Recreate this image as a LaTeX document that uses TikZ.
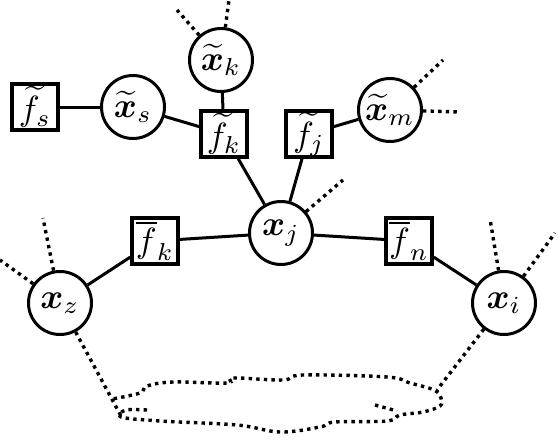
\documentclass[tikz,border=0pt]{standalone}
\usepackage{amsmath,bm,graphicx}
\newcommand{\glab}[1]{\scalebox{3.5}{$#1$}}
\begin{document}
\begin{tikzpicture}[x=1pt,y=-1pt,
  var/.style={circle,draw,line width=3pt,minimum size=63pt,inner sep=0pt},
  fac/.style={rectangle,draw,line width=3.6pt,minimum width=46pt,minimum height=46pt,inner sep=0pt},
  edge/.style={line width=3pt},
  dots/.style={line width=3.4pt,dash pattern=on 3.4pt off 4.2pt}]
\useasboundingbox (0,0) rectangle (558,442);
\node[var] (xk) at (221,60) {\glab{\widetilde{\bm{x}}_k}};
\node[var] (xs) at (133,107) {\glab{\widetilde{\bm{x}}_s}};
\node[fac] (fs) at (35,107) {\glab{\widetilde{f}_s}};
\node[fac] (fk) at (224,134) {\glab{\widetilde{f}_k}};
\node[fac] (fj) at (309,134) {\glab{\widetilde{f}_j}};
\node[var] (xm) at (390,110) {\glab{\widetilde{\bm{x}}_m}};
\node[var] (xj) at (281,233) {\glab{\bm{x}_j}};
\node[fac] (fbk) at (155,241) {\glab{\overline{f}_k}};
\node[fac] (fbn) at (409,241) {\glab{\overline{f}_n}};
\node[var] (xz) at (60,303) {\glab{\bm{x}_z}};
\node[var] (xi) at (504,303) {\glab{\bm{x}_i}};
\draw[edge] (fs) -- (xs);
\draw[edge] (xs) -- (fk);
\draw[edge] (xk) -- (fk);
\draw[edge] (fk) -- (xj);
\draw[edge] (fj) -- (xj);
\draw[edge] (fj) -- (xm);
\draw[edge] (xj) -- (fbk);
\draw[edge] (fbk) -- (xz);
\draw[edge] (xj) -- (fbn);
\draw[edge] (fbn) -- (xi);
\coordinate (k1) at (177,10);
\coordinate (k2) at (229,0);
\coordinate (m1) at (443,60);
\coordinate (m2) at (460,112);
\coordinate (j1) at (343,180);
\coordinate (z1) at (43,218);
\coordinate (z2) at (0,260);
\coordinate (i1) at (490,219);
\coordinate (i2) at (555,233);
\coordinate (z3) at (121,416);
\coordinate (i3) at (437,390);
\draw[dots] (xk) -- (k1);
\draw[dots] (xk) -- (k2);
\draw[dots] (xm) -- (m1);
\draw[dots] (xm) -- (m2);
\draw[dots] (xj) -- (j1);
\draw[dots] (xz) -- (z1);
\draw[dots] (xz) -- (z2);
\draw[dots] (xi) -- (i1);
\draw[dots] (xi) -- (i2);
\draw[dots] (xz) -- (z3);
\draw[dots] (xi) -- (i3);
\draw[dots] plot[smooth,tension=0.6] coordinates {(147,410) (126,410) (121,417) (160,421) (237,425) (280,432) (320,427) (335,422) (387,421) (400,415) (423,412) (440,406) (441,398) (434,390) (410,383) (387,377) (303,375) (283,380) (233,378) (227,383) (173,382) (147,386) (140,393) (112,399)};
\draw[dots] plot[smooth] coordinates {(375,405) (397,411)};
\end{tikzpicture}
\end{document}
